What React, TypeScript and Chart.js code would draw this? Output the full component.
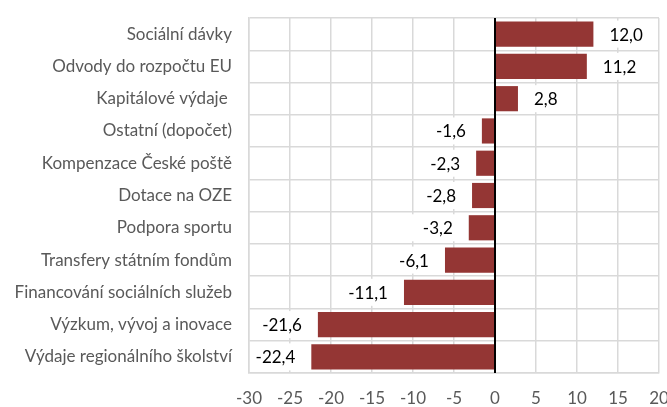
import React, { useEffect, useRef } from "react";
import { Chart, registerables } from "chart.js";

Chart.register(...registerables);

const categories = [
  "Sociální dávky",
  "Odvody do rozpočtu EU",
  "Kapitálové výdaje ",
  "Ostatní (dopočet)",
  "Kompenzace České poště",
  "Dotace na OZE",
  "Podpora sportu",
  "Transfery státním fondům",
  "Financování sociálních služeb",
  "Výzkum, vývoj a inovace",
  "Výdaje regionálního školství",
];
const values = [12.0, 11.2, 2.8, -1.6, -2.3, -2.8, -3.2, -6.1, -11.1, -21.6, -22.4];
const xMin = -30;
const xMax = 20;
const xStep = 5;

const FONT = "Lato, 'Open Sans', sans-serif";
const fmt = (v: number) => v.toFixed(1).replace(".", ",");

const labelPlugin = {
  id: "barLabels",
  afterDatasetsDraw(chart: any) {
    const ctx = chart.ctx;
    const meta = chart.getDatasetMeta(0);
    ctx.save();
    ctx.font = `17px ${FONT}`;
    ctx.textBaseline = "middle";
    meta.data.forEach((bar: any, i: number) => {
      const v = values[i];
      const text = fmt(v);
      const w = ctx.measureText(text).width;
      const gap = 16;
      const padX = 12;
      const h = 27;
      const y = bar.y;
      let tx: number;
      if (v >= 0) {
        tx = bar.x + gap;
      } else {
        tx = bar.x - gap - w;
      }
      const bx = Math.max(tx - padX, chart.chartArea.left + 1);
      const bw = Math.min(tx + w + padX, chart.chartArea.right - 1) - bx;
      ctx.fillStyle = "#ffffff";
      ctx.fillRect(bx, y - h / 2, bw, h);
      ctx.fillStyle = "#000000";
      ctx.textAlign = "left";
      ctx.fillText(text, tx, y + 1);
    });
    ctx.restore();
  },
};

export default function App() {
  const ref = useRef<HTMLCanvasElement>(null);
  useEffect(() => {
    document.body.style.margin = "0";
    const chart = new Chart(ref.current!, {
      type: "bar",
      data: {
        labels: categories,
        datasets: [
          {
            data: values,
            backgroundColor: "#943634",
            borderWidth: 0,
            barPercentage: 0.78,
            categoryPercentage: 1,
          },
        ],
      },
      options: {
        indexAxis: "y",
        animation: false,
        responsive: false,
        maintainAspectRatio: false,
        layout: { padding: { top: 18, right: 8, bottom: 0, left: 0 } },
        plugins: { legend: { display: false }, tooltip: { enabled: false } },
        scales: {
          x: {
            min: xMin,
            max: xMax,
            ticks: {
              stepSize: xStep,
              color: "#595959",
              font: { family: FONT, size: 17 },
              padding: 15,
              maxRotation: 0,
              callback: (v: any) => String(v),
            },
            grid: {
              color: (c: any) => (c.tick && c.tick.value === 0 ? "#000000" : "#d9d9d9"),
              lineWidth: (c: any) => (c.tick && c.tick.value === 0 ? 2 : 1.5),
              drawTicks: false,
              z: 0,
            },
            border: { display: true, color: "#d9d9d9", width: 1.5 },
            afterFit: (s: any) => {
              s.height = 34;
              s.paddingLeft = 0;
              s.paddingRight = 0;
            },
          },
          y: {
            ticks: {
              color: "#595959",
              font: { family: FONT, size: 17 },
              padding: 17,
            },
            grid: { color: "#d9d9d9", lineWidth: 1.5, drawTicks: false, offset: true },
            border: { display: true, color: "#d9d9d9", width: 1.5 },
            afterFit: (s: any) => {
              s.width = 249;
              s.paddingTop = 0;
              s.paddingBottom = 0;
            },
          },
        },
      },
      plugins: [
        labelPlugin,
        {
          id: "zeroLine",
          afterDatasetsDraw(chart: any) {
            const x = chart.scales.x.getPixelForValue(0);
            const { top, bottom } = chart.chartArea;
            const ctx = chart.ctx;
            ctx.save();
            ctx.strokeStyle = "#000";
            ctx.lineWidth = 2;
            ctx.beginPath();
            ctx.moveTo(x, top);
            ctx.lineTo(x, bottom);
            ctx.stroke();
            ctx.restore();
          },
        },
      ],
    });
    return () => chart.destroy();
  }, []);
  return (
    <div style={{ width: 667, height: 407 }}>
      <canvas ref={ref} width={667} height={407} />
    </div>
  );
}
